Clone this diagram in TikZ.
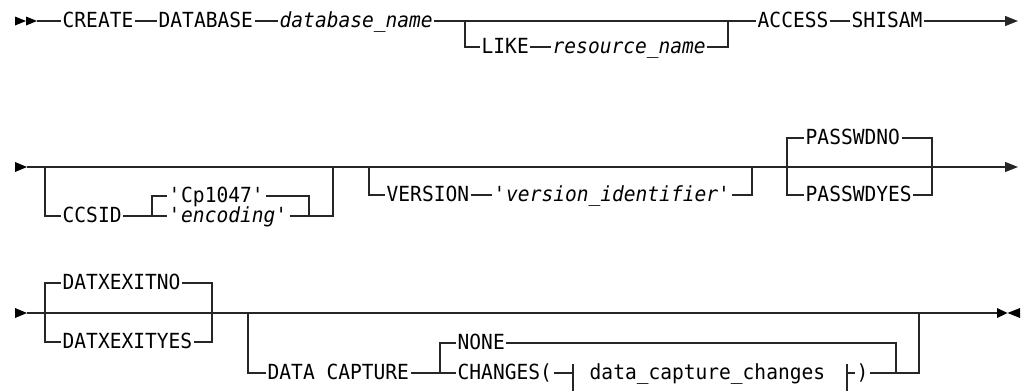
\documentclass[tikz,border=0pt]{standalone}
\usepackage{fontspec}
\setmonofont[FakeStretch=0.94]{DejaVu Sans Mono}
\usetikzlibrary{arrows.meta}
\begin{document}
\begin{tikzpicture}[x=1pt,y=-1pt,
  ln/.style={line width=1.3pt, draw=black!85},
  endarrow/.style={ln,-{Triangle[length=13pt,width=10pt]}},
  tipfill/.style={fill=black},
  txt/.style={anchor=west, inner xsep=1.5pt, inner ysep=0pt, text height=15pt, text depth=1.5pt,
    font=\ttfamily\fontsize{20.8}{21}\selectfont},
  var/.style={txt, font=\ttfamily\itshape\fontsize{20.8}{21}\selectfont}]
\useasboundingbox (0,0) rectangle (1024,391);

% ---------------- Row 1 ----------------
\fill[tipfill] (15,16.5) -- (26,21) -- (15,25.5) -- cycle;
\fill[tipfill] (26,16.5) -- (37,21) -- (26,25.5) -- cycle;
\coordinate (s1) at (37,21);
\node[txt] (create) at (61,21) {CREATE};
\node[txt] (database) at (157,21) {DATABASE};
\node[var] (dbname) at (278,21) {database\_name};
\node[txt] (access) at (756,21) {ACCESS};
\node[txt] (shisam) at (850,21) {SHISAM};
\coordinate (e1) at (1018,21);
\coordinate (l1a) at (465,21);
\coordinate (l1b) at (465,47);
\node[txt] (like) at (480,47) {LIKE};
\node[var] (resname) at (551,47) {resource\_name};
\coordinate (l1c) at (728,47);
\coordinate (l1d) at (728,21);
\draw[ln] (s1) -- (create.west) (create.east) -- (database.west)
  (database.east) -- (dbname.west) (dbname.east) -- (access.west)
  (access.east) -- (shisam.west);
\draw[endarrow] (shisam.east) -- (e1);
\draw[ln] (l1a) -- (l1b) -- (like.west) (like.east) -- (resname.west)
  (resname.east) -- (l1c) -- (l1d);

% ---------------- Row 2 ----------------
\fill[tipfill] (15,162) -- (27,167) -- (15,172) -- cycle;
\coordinate (s2) at (27,167);
\coordinate (e2) at (1018,167);
\draw[endarrow] (s2) -- (e2);
% CCSID
\coordinate (c1) at (45,167);
\coordinate (c2) at (45,216);
\node[txt] (ccsid) at (61,216) {CCSID};
\coordinate (c3) at (152,216);
\coordinate (c4) at (152,196);
\node[txt] (cp) at (167,196) {\textquotesingle Cp1047\textquotesingle};
\node[var] (enc) at (167,216) {\textquotesingle encoding\textquotesingle};
\coordinate (c5) at (309,196);
\coordinate (c6) at (309,216);
\coordinate (c7) at (333,216);
\coordinate (c8) at (333,167);
\draw[ln] (c1) -- (c2) -- (ccsid.west) (ccsid.east) -- (enc.west)
  (enc.east) -- (c7) -- (c8);
\draw[ln] (c3) -- (c4) -- (cp.west) (cp.east) -- (c5) -- (c6);
% VERSION
\coordinate (v1) at (369,167);
\coordinate (v2) at (369,195);
\node[txt] (version) at (385,195) {VERSION};
\node[var] (verid) at (492,195) {\textquotesingle version\_identifier\textquotesingle};
\coordinate (v3) at (752,195);
\coordinate (v4) at (752,167);
\draw[ln] (v1) -- (v2) -- (version.west) (version.east) -- (verid.west)
  (verid.east) -- (v3) -- (v4);
% PASSWD
\coordinate (p1) at (787,138);
\coordinate (p2) at (787,195);
\node[txt] (pno) at (804,138) {PASSWDNO};
\node[txt] (pyes) at (804,195) {PASSWDYES};
\coordinate (p3) at (932,138);
\coordinate (p4) at (932,195);
\draw[ln] (pno.west) -- (p1) -- (p2) -- (pyes.west);
\draw[ln] (pno.east) -- (p3) -- (p4) -- (pyes.east);

% ---------------- Row 3 ----------------
\fill[tipfill] (15,308) -- (27,313) -- (15,318) -- cycle;
\coordinate (s3) at (27,313);
\coordinate (e3) at (997,313);
\draw[ln] (s3) -- (e3);
\fill[tipfill] (997,308) -- (1007.5,313) -- (997,318) -- cycle;
\fill[tipfill] (1020,308) -- (1007.5,313) -- (1020,318) -- cycle;
% DATXEXIT
\coordinate (d1) at (45,283);
\coordinate (d2) at (45,342);
\node[txt] (dno) at (61,283) {DATXEXITNO};
\node[txt] (dyes) at (61,342) {DATXEXITYES};
\coordinate (d3) at (212,283);
\coordinate (d4) at (212,342);
\draw[ln] (dno.west) -- (d1) -- (d2) -- (dyes.west);
\draw[ln] (dno.east) -- (d3) -- (d4) -- (dyes.east);
% DATA CAPTURE
\coordinate (g1) at (248,313);
\coordinate (g2) at (248,373);
\node[txt] (dc) at (266,373) {DATA CAPTURE};
\coordinate (g3) at (440,373);
\coordinate (g4) at (440,343);
\node[txt] (none) at (456,343) {NONE};
\node[txt] (changes) at (456,373) {CHANGES(};
\coordinate (f1) at (573,373);
\coordinate (f1t) at (573,364);
\coordinate (f1b) at (573,391);
\node[txt] (dcc) at (588,373) {data\_capture\_changes};
\coordinate (f2) at (847,373);
\coordinate (f2t) at (847,364);
\coordinate (f2b) at (847,391);
\node[txt] (paren) at (855,373) {)};
\coordinate (g5) at (896,373);
\coordinate (g6) at (896,343);
\coordinate (g7) at (919,373);
\coordinate (g8) at (919,313);
\draw[ln] (g1) -- (g2) -- (dc.west) (dc.east) -- (g3) -- (g4) -- (none.west)
  (none.east) -- (g6) -- (g5) -- (g7) -- (g8);
\draw[ln] (g3) -- (changes.west) (changes.east) -- (f1);
\draw[ln] (f1t) -- (f1b) (f2t) -- (f2b);
\draw[ln] (f2) -- (paren.west) (paren.east) -- (g5);
\end{tikzpicture}
\end{document}
